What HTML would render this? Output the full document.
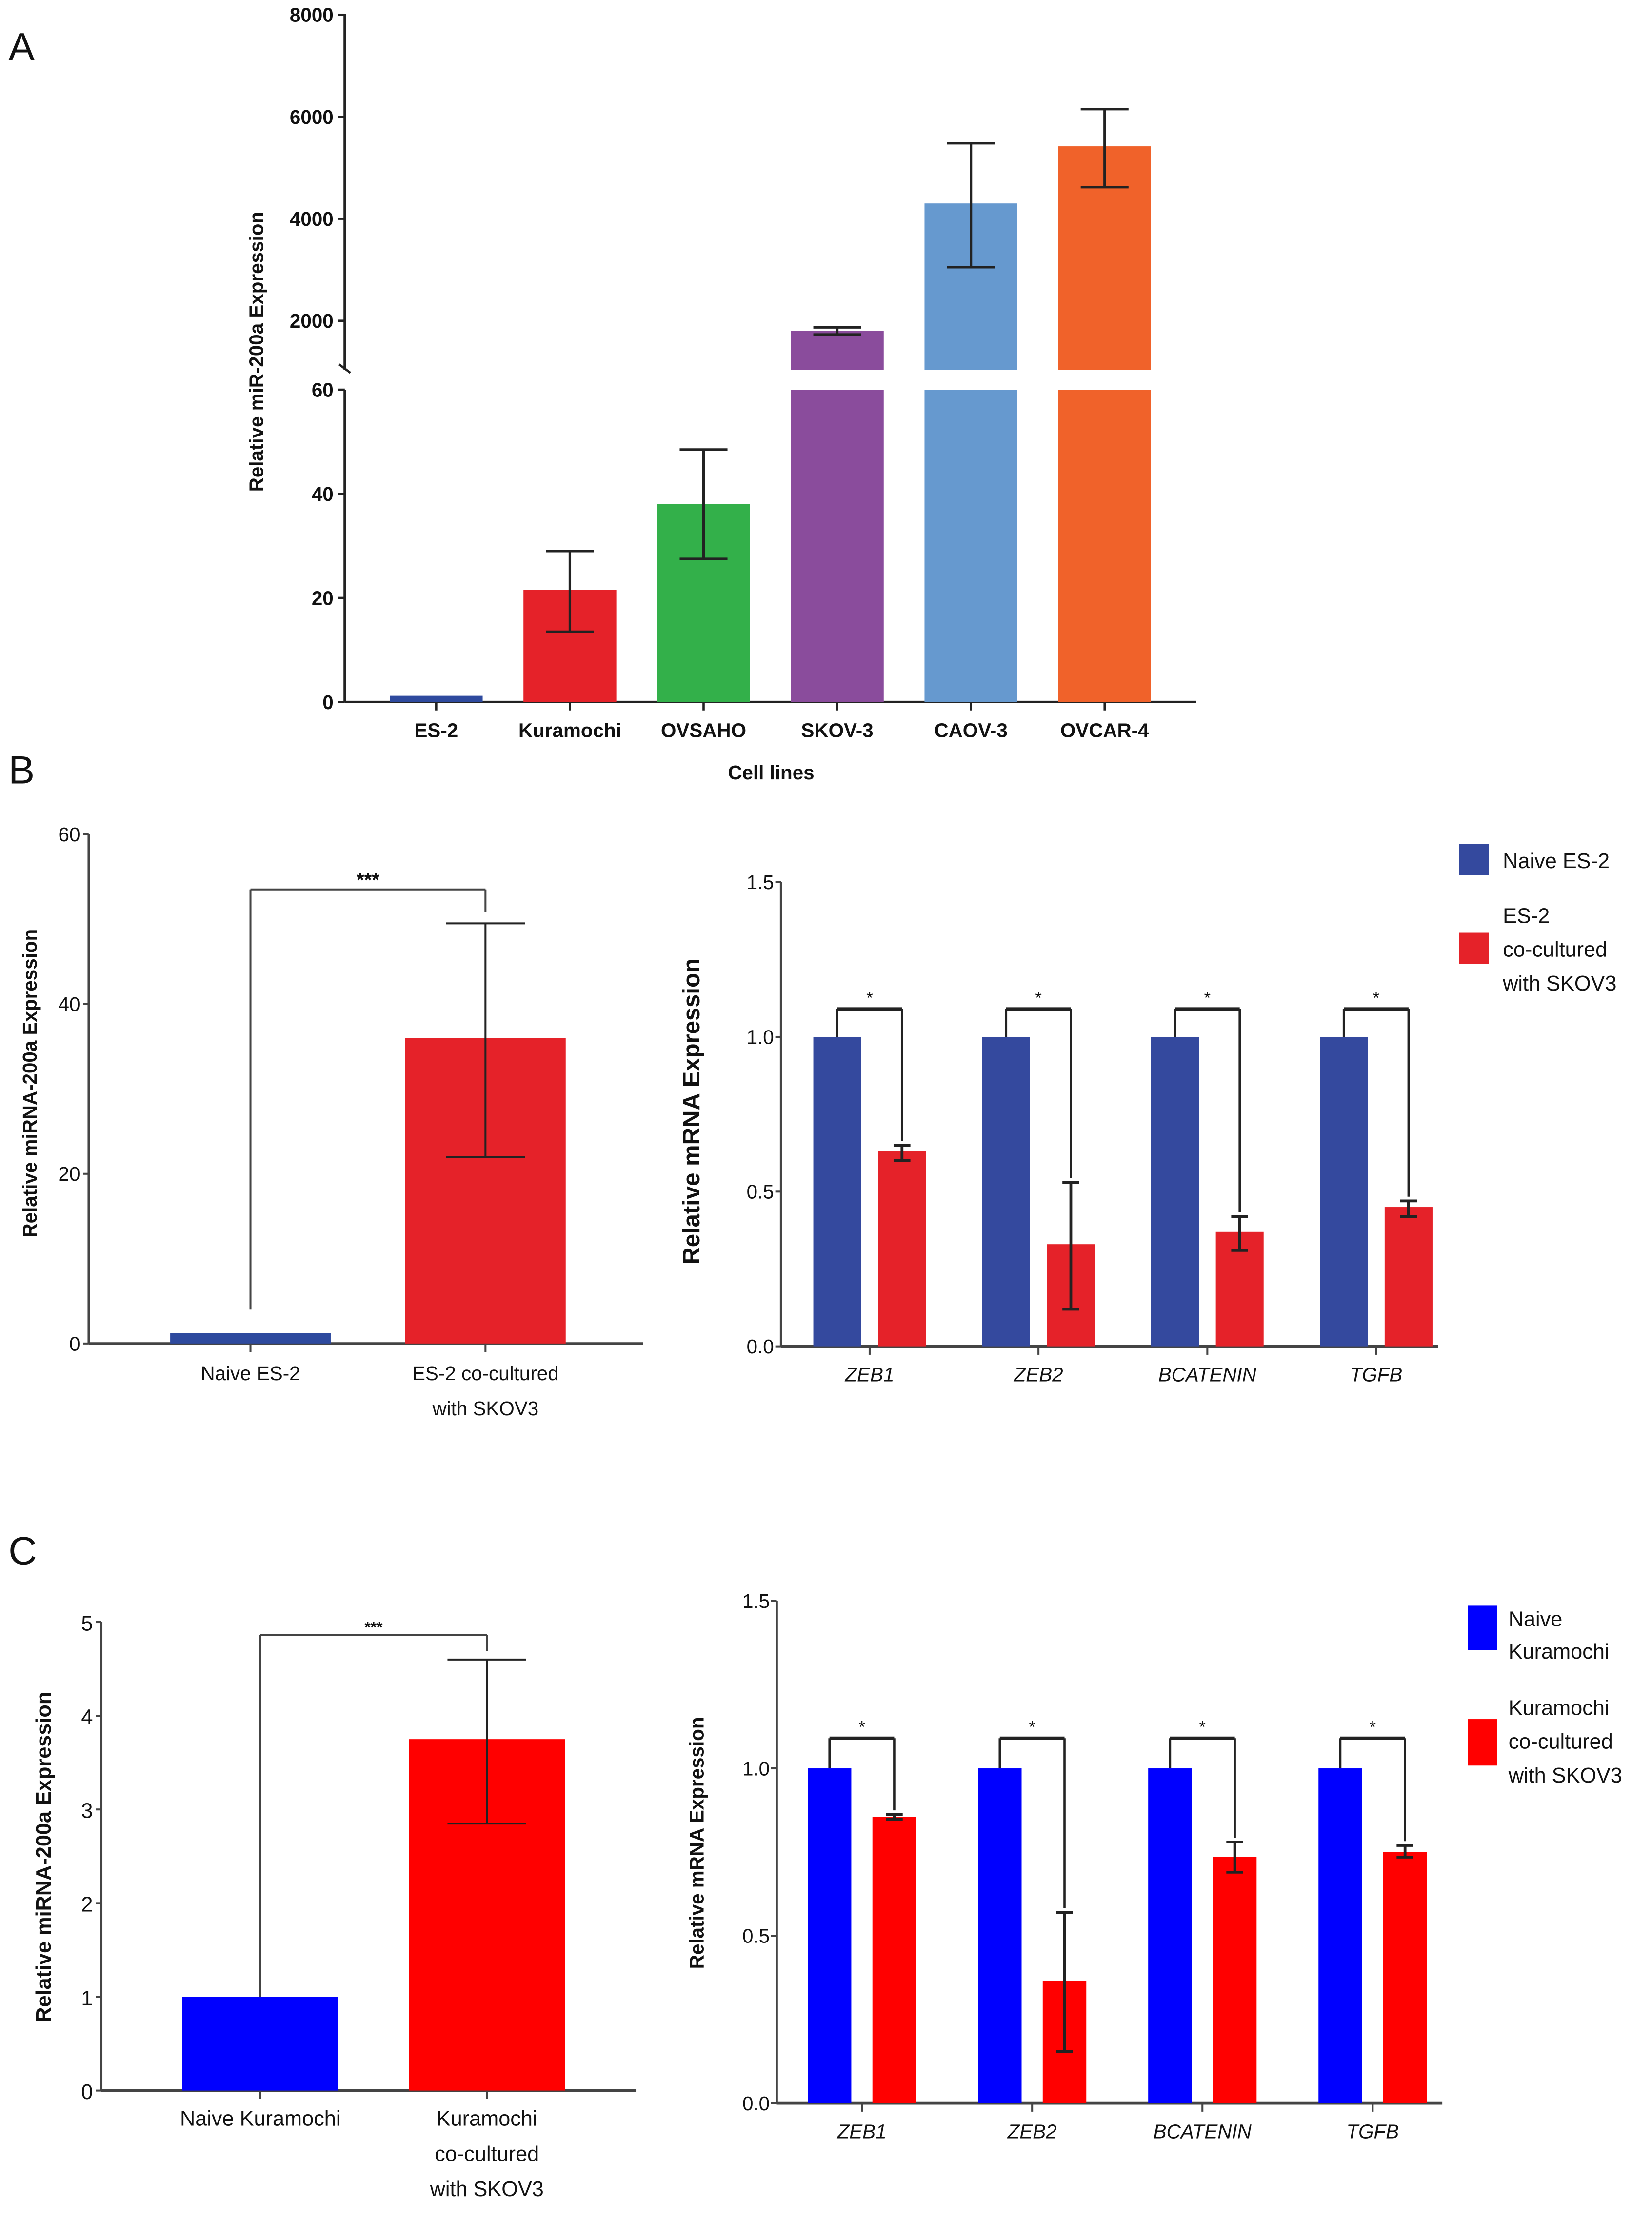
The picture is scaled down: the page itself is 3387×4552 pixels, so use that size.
<!DOCTYPE html>
<html><head><meta charset="utf-8"><style>
html,body{margin:0;padding:0;background:#fff;}
svg{display:block;}
text{font-family:"Liberation Sans",sans-serif;fill:#111;}
</style></head><body>
<svg id="fig" width="3387" height="4552" viewBox="0 0 1174 1578" preserveAspectRatio="none" xmlns="http://www.w3.org/2000/svg">
<text x="6" y="43" font-size="28">A</text>
<text x="6" y="557" font-size="28">B</text>
<text x="6" y="1112" font-size="28">C</text>
</svg>
<script>
// ---------- Panel A data ----------
const aCats = ["ES-2","Kuramochi","OVSAHO","SKOV-3","CAOV-3","OVCAR-4"];
const aVals = [1.2, 21.5, 38, 1800, 4300, 5420];
const aErrLo = [1.2, 13.5, 27.5, 1730, 3050, 4620];
const aErrHi = [1.2, 29, 48.5, 1870, 5480, 6150];
const aColors = ["#2e4a9e","#e52229","#33b04a","#8a4c9c","#6699cf","#f0622a"];
const aTicksLow = [0,20,40,60];
const aTicksHigh = [2000,4000,6000,8000];
// ---------- Panel B data ----------
const bCats = ["Naive ES-2","ES-2 co-cultured|with SKOV3"];
const bVals = [1.2, 36];
const bErrLo = [1.2, 22];
const bErrHi = [1.2, 49.5];
const bTicks = [0,20,40,60];
const bGenes = ["ZEB1","ZEB2","BCATENIN","TGFB"];
const bNaive = [1,1,1,1];
const bCo = [0.63,0.33,0.37,0.45];
const bCoLo = [0.60,0.12,0.31,0.42];
const bCoHi = [0.65,0.53,0.42,0.47];
const mTicks = [0,0.5,1.0,1.5];
// ---------- Panel C data ----------
const cCats = ["Naive Kuramochi","Kuramochi|co-cultured|with SKOV3"];
const cVals = [1.0, 3.75];
const cErrLo = [1.0, 2.85];
const cErrHi = [1.0, 4.6];
const cTicks = [0,1,2,3,4,5];
const cNaive = [1,1,1,1];
const cCo = [0.855,0.365,0.735,0.75];
const cCoLo = [0.848,0.155,0.69,0.735];
const cCoHi = [0.862,0.57,0.78,0.77];

const svg = document.getElementById('fig');
const NS = 'http://www.w3.org/2000/svg';
function mk(tag, attrs, parent){
  const e = document.createElementNS(NS, tag);
  for (const k in attrs) e.setAttribute(k, attrs[k]);
  (parent||svg).appendChild(e);
  return e;
}
function line(x1,y1,x2,y2,w,col,name){
  const l = mk('line',{x1:x1,y1:y1,x2:x2,y2:y2,stroke:col||'#222','stroke-width':w||1.6});
  
  
  return l;
}
function txt(x,y,s,size,anchor,opts,name){
  const t = mk('text',Object.assign({x:x,y:y,'font-size':size,'text-anchor':anchor||'middle'},opts||{}));
  t.textContent = s;
  
  
  return t;
}
function rect(x,y,w,h,col,name){
  const r = mk('rect',{x:x,y:y,width:w,height:h,fill:col});
  
  
  return r;
}
function errbar(cx,yLo,yHi,hw,w,name){
  line(cx,yLo,cx,yHi,w||1.6,'#222',name);
  line(cx-hw,yHi,cx+hw,yHi,w||2,'#222',name+'-cap-top');
  line(cx-hw,yLo,cx+hw,yLo,w||2,'#222',name+'-cap-bottom');
}

// ================= Panel A =================
(function(){
  const ax = 245, x0 = 245, x1 = 850;
  const yLow = v => 499 - (v/60)*222;             // 0..60 -> 499..277
  const yHigh = v => 300.5 - (v/2000)*72.5;       // broken upper axis
  const cut = 263;
  const step = 95, first = 310, bw = 66;
  const xc = i => first + i*step;
  // axes
  line(ax,10,ax,cut,1.8,'#222','a-y-axis-upper');
  line(ax,277,ax,499,1.8,'#222','a-y-axis-lower');
  line(ax-4,cut-4,ax+4,cut+2,1.6,'#222','a-axis-break');
  line(x0,499,x1,499,1.8,'#222','a-x-axis');
  aTicksLow.forEach(t=>{ const y=yLow(t); line(ax-5,y,ax,y,1.6,'#222','a-tick');
    txt(ax-8,y+5,String(t),14,'end',{'font-weight':'bold'},'a-tick-label'); });
  aTicksHigh.forEach(t=>{ const y=yHigh(t); line(ax-5,y,ax,y,1.6,'#222','a-tick');
    txt(ax-8,y+5,String(t),14,'end',{'font-weight':'bold'},'a-tick-label'); });
  aCats.forEach((c,i)=>{
    const cx = xc(i), v = aVals[i];
    if (v <= 60){
      rect(cx-bw/2, yLow(v), bw, 499-yLow(v), aColors[i], 'a-bar-'+c.toLowerCase());
      if (aErrHi[i] > aErrLo[i]) errbar(cx, yLow(aErrLo[i]), yLow(aErrHi[i]), 17, 1.8, 'a-error-bar');
    } else {
      rect(cx-bw/2, 277, bw, 222, aColors[i], 'a-bar-lower-'+c.toLowerCase());
      rect(cx-bw/2, yHigh(v), bw, cut-yHigh(v), aColors[i], 'a-bar-upper-'+c.toLowerCase());
      errbar(cx, yHigh(aErrLo[i]), yHigh(aErrHi[i]), 17, 1.8, 'a-error-bar');
    }
    line(cx,499,cx,505,1.6,'#222','a-x-tick');
    txt(cx,524,c,14,'middle',{'font-weight':'bold'},'a-x-label');
  });
  txt(548,554,'Cell lines',14,'middle',{'font-weight':'bold'},'a-x-axis-title');
  txt(0,0,'Relative miR-200a Expression',14,'middle',{'font-weight':'bold',transform:'translate(187,250) rotate(-90)'},'a-y-axis-title');
})();

// ================= Panel B left =================
(function(){
  const ax = 63, y = v => 955 - (v/60)*362;
  const centers = [178, 345], bw = [114, 114];
  line(ax,593,ax,955,1.6,'#444','b-left-y-axis');
  line(ax,955,457,955,1.8,'#444','b-left-x-axis');
  bTicks.forEach(t=>{ const yy=y(t); line(ax-4,yy,ax,yy,1.4,'#444','b-left-tick');
    txt(ax-6,yy+5,String(t),14,'end',{},'b-left-tick-label'); });
  const cols = ['#2e4a9e','#e52229'];
  bCats.forEach((c,i)=>{
    const cx = centers[i];
    rect(cx-bw[i]/2, y(bVals[i]), bw[i], 955-y(bVals[i]), cols[i], 'b-left-bar-'+i);
    if (bErrHi[i] > bErrLo[i]) errbar(cx, y(bErrLo[i]), y(bErrHi[i]), 28, 1.4, 'b-left-error-bar');
    line(cx,955,cx,961,1.4,'#444','b-left-x-tick');
    c.split('|').forEach((s,k)=>txt(cx,981+k*25,s,14,'middle',{},'b-left-x-label'));
  });
  const by = y(53.5);
  line(centers[0],by,centers[1],by,1.4,'#444','b-left-sig-bracket');
  line(centers[0],by,centers[0],y(4),1.4,'#444','b-left-sig-bracket-left');
  line(centers[1],by,centers[1],y(bErrHi[1])-8,1.4,'#444','b-left-sig-bracket-right');
  txt((centers[0]+centers[1])/2,by-2,'***',14,'middle',{'font-weight':'bold'},'b-left-significance');
  txt(0,0,'Relative miRNA-200a Expression',14,'middle',{'font-weight':'bold',transform:'translate(26,770) rotate(-90)'},'b-left-y-axis-title');
})();

// ================= grouped charts (B right, C right) =================
function grouped(opt){
  const y = v => opt.y0 - v*opt.unit;
  line(opt.ax,y(1.5),opt.ax,opt.y0,1.6,'#444',opt.p+'-y-axis');
  line(opt.ax,opt.y0,opt.xEnd,opt.y0,2,'#444',opt.p+'-x-axis');
  mTicks.forEach(t=>{ const yy=y(t); line(opt.ax-4,yy,opt.ax,yy,1.4,'#444',opt.p+'-tick');
    txt(opt.ax-5,yy+5,t.toFixed(1),14,'end',{},opt.p+'-tick-label'); });
  bGenes.forEach((g,i)=>{
    const bx = opt.first + i*opt.step;
    const bc = bx + opt.bw/2, rx = bx + opt.bw + opt.gap, rc = rx + opt.bw/2;
    rect(bx, y(opt.naive[i]), opt.bw, opt.y0-y(opt.naive[i]), opt.blue, opt.p+'-bar-naive-'+g.toLowerCase());
    rect(rx, y(opt.co[i]), opt.bw, opt.y0-y(opt.co[i]), opt.red, opt.p+'-bar-co-'+g.toLowerCase());
    errbar(rc, y(opt.lo[i]), y(opt.hi[i]), 6, 2, opt.p+'-error-bar');
    const by = y(1.09);
    line(bc,by,rc,by,2.4,'#222',opt.p+'-sig-bracket');
    line(bc,by,bc,y(1.0),1.6,'#222',opt.p+'-sig-bracket-left');
    line(rc,by,rc,y(opt.hi[i])-3,1.6,'#222',opt.p+'-sig-bracket-right');
    txt((bc+rc)/2,by-4,'*',12,'middle',{},opt.p+'-significance');
    const cx = bx + opt.bw + opt.gap/2;
    line(cx,opt.y0,cx,opt.y0+6,1.4,'#444',opt.p+'-x-tick');
    txt(cx,opt.y0+25,g,14,'middle',{'font-style':'italic'},opt.p+'-x-label');
  });
  txt(0,0,'Relative mRNA Expression',opt.tSize,'middle',{'font-weight':'bold',transform:'translate('+opt.tx+','+opt.ty+') rotate(-90)'},opt.p+'-y-axis-title');
}
grouped({p:'b-right',ax:555,y0:957,unit:220,xEnd:1022,first:578,step:120,bw:34,gap:12,
  naive:bNaive,co:bCo,lo:bCoLo,hi:bCoHi,blue:'#34499e',red:'#e52229',tx:497,ty:790,tSize:17});
grouped({p:'c-right',ax:552,y0:1495,unit:238,xEnd:1025,first:574,step:121,bw:31,gap:15,
  naive:cNaive,co:cCo,lo:cCoLo,hi:cCoHi,blue:'#0000ff',red:'#ff0000',tx:500,ty:1310,tSize:14});

// B right legend
rect(1037,600,21,22,'#34499e','b-legend-swatch-naive');
txt(1068,617,'Naive ES-2',15,'start',{},'b-legend-label-naive');
rect(1037,663,21,22,'#e52229','b-legend-swatch-co');
['ES-2','co-cultured','with SKOV3'].forEach((s,k)=>txt(1068,656+k*24,s,15,'start',{},'b-legend-label-co'));
// C right legend
rect(1043,1141,21,32,'#0000ff','c-legend-swatch-naive');
['Naive','Kuramochi'].forEach((s,k)=>txt(1072,1156+k*23,s,15,'start',{},'c-legend-label-naive'));
rect(1043,1222,21,33,'#ff0000','c-legend-swatch-co');
['Kuramochi','co-cultured','with SKOV3'].forEach((s,k)=>txt(1072,1219+k*24,s,15,'start',{},'c-legend-label-co'));

// ================= Panel C left =================
(function(){
  const ax = 72, y0 = 1486, y = v => y0 - v*66.6;
  const centers = [185, 346], bw = 111;
  line(ax,y(5),ax,y0,1.6,'#444','c-left-y-axis');
  line(ax,y0,452,y0,1.8,'#444','c-left-x-axis');
  cTicks.forEach(t=>{ const yy=y(t); line(ax-4,yy,ax,yy,1.4,'#444','c-left-tick');
    txt(ax-6,yy+6,String(t),15,'end',{},'c-left-tick-label'); });
  const cols = ['#0000ff','#ff0000'];
  cCats.forEach((c,i)=>{
    const cx = centers[i];
    rect(cx-bw/2, y(cVals[i]), bw, y0-y(cVals[i]), cols[i], 'c-left-bar-'+i);
    if (cErrHi[i] > cErrLo[i]) errbar(cx, y(cErrLo[i]), y(cErrHi[i]), 28, 1.4, 'c-left-error-bar');
    line(cx,y0,cx,y0+6,1.4,'#444','c-left-x-tick');
    c.split('|').forEach((s,k)=>txt(cx,1511+k*25,s,15,'middle',{},'c-left-x-label'));
  });
  const by = y(4.86);
  line(centers[0],by,centers[1],by,1.4,'#444','c-left-sig-bracket');
  line(centers[0],by,centers[0],y(1.0),1.4,'#444','c-left-sig-bracket-left');
  line(centers[1],by,centers[1],y(cErrHi[1])-6,1.4,'#444','c-left-sig-bracket-right');
  txt((centers[0]+centers[1])/2,by-2,'***',11,'middle',{'font-weight':'bold'},'c-left-significance');
  txt(0,0,'Relative miRNA-200a Expression',15,'middle',{'font-weight':'bold',transform:'translate(36,1320) rotate(-90)'},'c-left-y-axis-title');
})();
</script>
</body></html>
